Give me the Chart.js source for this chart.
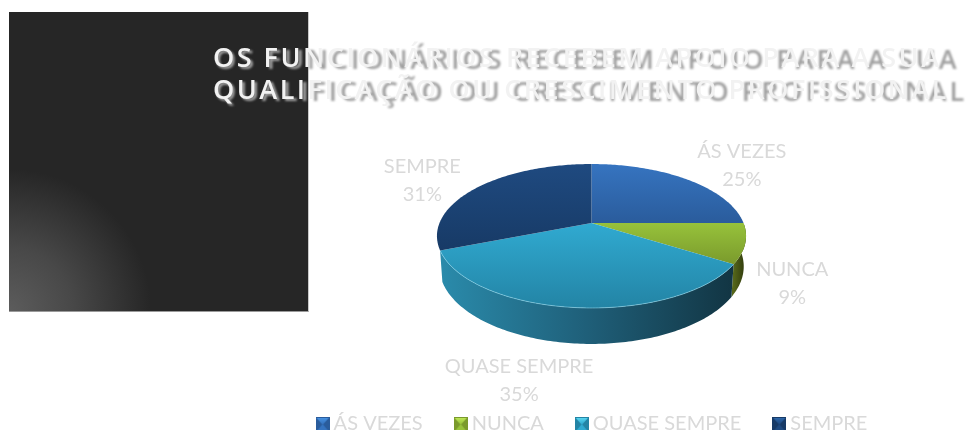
<!DOCTYPE html>
<html lang="pt">
<head>
<meta charset="utf-8">
<title>Apoio à qualificação</title>
<script src="https://cdn.jsdelivr.net/npm/chart.js@4/dist/chart.umd.min.js"></script>
<style>
html,body{margin:0;padding:0;background:#fff;width:970px;height:430px;overflow:hidden}
#panel{position:absolute;left:9px;top:12px;width:299px;height:299px;background:radial-gradient(circle 142px at 0px 299px,#5c5c5c 0%,#484848 45%,#2c2c2c 90%,#262626 100%),#262626;border-right:1px solid #c8c8c8;border-bottom:1px solid #9a9a9a}
#c{position:absolute;left:0;top:0}
</style>
</head>
<body>
<div id="panel"></div>
<canvas id="c" width="970" height="430"></canvas>
<script>
const categories = ['ÁS VEZES', 'NUNCA', 'QUASE SEMPRE', 'SEMPRE'];
const percentages = [25, 9, 35, 31];
const titleLines = ['OS FUNCIONÁRIOS RECEBEM APOIO PARA A SUA', 'QUALIFICAÇÃO OU CRESCIMENTO PROFISSIONAL'];
const faceLight = ['#3674c0', '#97c23b', '#30aad1', '#1f4a80'];
const faceDark = ['#2a5c9c', '#7a9a2c', '#2384a5', '#173a66'];
const iconBright = ['#4a97e6', '#c4ec5a', '#5fdcf5', '#2f6bb0'];
const wallStops = [
  ['#2a5c9c', '#1d4270'],
  ['#55661a', '#2c360b'],
  ['#2a8bab', '#1f5f79', '#123543'],
  ['#1d4270', '#173a66']
];
const labelShift = [[55, -28], [47, 26], [-55, 59], [-55, -21]];

const TILT = 0.458, PERSP = -0.1806, DEPTH = 0.194, PLANE_Y = 223, LEGEND_Y = 424, LEGEND_NUDGE = 3;

function project(arc, a, sunk) {
  const u = Math.cos(a), v = Math.sin(a), d = 1 + PERSP * v, R = arc.outerRadius;
  const inset = sunk ? 0.985 : 1;
  return {
    x: arc.x + R * u / d * inset,
    y: PLANE_Y + R * TILT * v / d + (sunk ? R * DEPTH / d : 0)
  };
}
function sweep(arc, from, to, sunk) {
  const n = Math.max(2, Math.ceil((to - from) * 60)), out = [];
  for (let i = 0; i <= n; i++) out.push(project(arc, from + (to - from) * i / n, sunk));
  return out;
}
function trace(ctx, pts) {
  pts.forEach(p => ctx.lineTo(p.x, p.y));
}

const pie3d = {
  id: 'pie3d',
  beforeDatasetsDraw(chart) {
    const ctx = chart.ctx, arcs = chart.getDatasetMeta(0).data;
    ctx.save();
    arcs.forEach((arc, i) => {
      if (Math.sin((arc.startAngle + arc.endAngle) / 2) < 0) return;
      const top = sweep(arc, arc.startAngle, arc.endAngle, false);
      const low = sweep(arc, arc.startAngle, arc.endAngle, true);
      const xs = top.map(p => p.x), x0 = Math.min(...xs), x1 = Math.max(...xs);
      const g = ctx.createLinearGradient(x0, 0, x1, 0);
      wallStops[i].forEach((c, k, l) => g.addColorStop(k / (l.length - 1), c));
      ctx.beginPath(); trace(ctx, top); trace(ctx, low.reverse()); ctx.closePath();
      ctx.fillStyle = g; ctx.fill();
    });
    arcs.forEach((arc, i) => {
      const rim = sweep(arc, arc.startAngle, arc.endAngle, false);
      const centre = { x: arc.x, y: PLANE_Y };
      const ys = rim.map(p => p.y).concat(centre.y), y0 = Math.min(...ys), y1 = Math.max(...ys);
      const g = ctx.createLinearGradient(0, y0, 0, y1);
      g.addColorStop(0, faceLight[i]); g.addColorStop(1, faceDark[i]);
      ctx.beginPath(); ctx.moveTo(centre.x, centre.y); trace(ctx, rim); ctx.closePath();
      ctx.fillStyle = g; ctx.fill();
      if (i === 2) {
        ctx.beginPath(); trace(ctx, rim);
        ctx.strokeStyle = 'rgba(150,220,240,0.55)'; ctx.lineWidth = 1; ctx.stroke();
      }
    });
    ctx.font = '20px Lato'; ctx.fillStyle = '#d9d9d9';
    ctx.textAlign = 'center'; ctx.textBaseline = 'middle';
    arcs.forEach((arc, i) => {
      const m = project(arc, (arc.startAngle + arc.endAngle) / 2, false);
      const x = m.x + labelShift[i][0], y = m.y + labelShift[i][1];
      ctx.fillText(categories[i], x, y);
      ctx.fillText(percentages[i] + '%', x, y + 28);
    });
    ctx.restore();
    return false;
  }
};

const ghostTitle = {
  id: 'ghostTitle',
  afterLayout(chart) {
    const lg = chart.legend, pad = lg.options.labels.padding;
    lg.top = LEGEND_Y - pad - lg.options.labels.font.size / 2;
    lg.left += LEGEND_NUDGE; lg.right += LEGEND_NUDGE;
    const t = chart.titleBlock;
    if (t._ghosted) return;
    t._ghosted = true;
    const base = t.draw.bind(t);
    t.draw = function () {
      const ctx = chart.ctx;
      ctx.save();
      ctx.letterSpacing = '2.9px';
      ctx.filter = 'brightness(0.66) blur(0.9px)';
      ctx.translate(2, 2);
      base();
      ctx.restore();
      ctx.save();
      ctx.letterSpacing = '2.5px';
      base();
      ctx.restore();
    };
  }
};

function legendIcon(bright, light, dark) {
  const s = 14, cv = document.createElement('canvas');
  cv.width = s; cv.height = s;
  const x = cv.getContext('2d');
  x.fillStyle = dark; x.fillRect(0, 0, s, s);
  x.fillStyle = light;
  x.beginPath(); x.moveTo(2, s - 1); x.lineTo(s - 2, s - 1); x.lineTo(s / 2, s / 2); x.closePath(); x.fill();
  const g = x.createLinearGradient(0, 0, 0, s / 2);
  g.addColorStop(0, bright); g.addColorStop(1, light);
  x.fillStyle = g;
  x.beginPath(); x.moveTo(1, 1); x.lineTo(s - 1, 1); x.lineTo(s / 2, s / 2 + 1); x.closePath(); x.fill();
  return cv;
}
const icons = faceLight.map((c, i) => legendIcon(iconBright[i], c, faceDark[i]));

new Chart(document.getElementById('c'), {
  type: 'pie',
  data: {
    labels: categories,
    datasets: [{ data: percentages, backgroundColor: faceLight, borderWidth: 0, radius: 152 }]
  },
  options: {
    responsive: false,
    animation: false,
    layout: { padding: { left: 213, right: 0, top: 0, bottom: 0 } },
    plugins: {
      tooltip: { enabled: false },
      title: {
        display: true,
        text: titleLines,
        align: 'start',
        color: '#f2f2f2',
        font: { family: '"Open Sans"', size: 27, weight: '600', lineHeight: 1.19 },
        padding: { top: 43, bottom: 0 }
      },
      legend: {
        position: 'bottom',
        labels: {
          color: '#d9d9d9',
          font: { family: 'Lato', size: 20 },
          usePointStyle: true,
          boxWidth: 2,
          boxHeight: 14,
          padding: 37,
          generateLabels(chart) {
            return categories.map((text, index) => ({
              text, index, fontColor: '#d9d9d9', pointStyle: icons[index], hidden: false, lineWidth: 0
            }));
          }
        }
      }
    }
  },
  plugins: [pie3d, ghostTitle]
});
</script>
</body>
</html>
